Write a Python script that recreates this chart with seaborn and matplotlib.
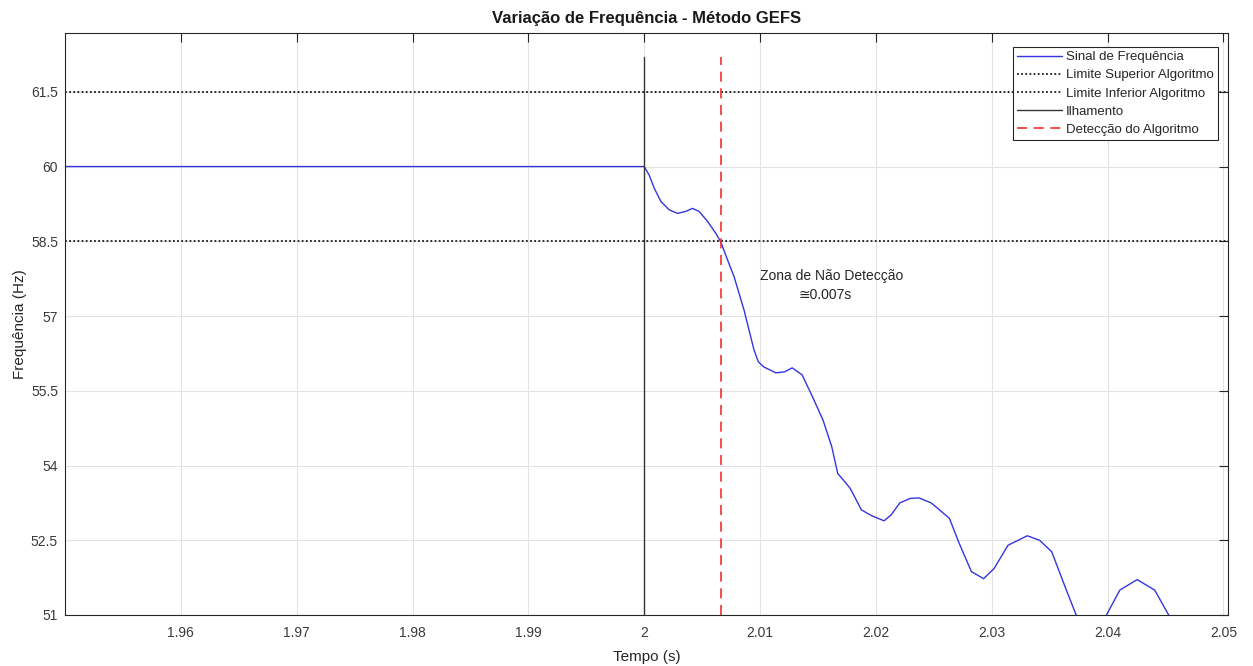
import matplotlib
matplotlib.use("Agg")
import matplotlib.pyplot as plt
import seaborn as sns
import pandas as pd

# Frequency signal (s, Hz)
tempo = [1.9500, 2.0000, 2.00043, 2.00086, 2.00144, 2.00216, 2.00288, 2.00359,
         2.00417, 2.00474, 2.00547, 2.00618, 2.00661, 2.00719, 2.00776, 2.00862,
         2.00948, 2.00986, 2.01031, 2.01137, 2.01212, 2.01278, 2.01363, 2.01453,
         2.01544, 2.01619, 2.01671, 2.01719, 2.01779, 2.01875, 2.01966, 2.02071,
         2.02132, 2.02207, 2.02297, 2.02372, 2.02478, 2.02569, 2.02635, 2.02719,
         2.02825, 2.02930, 2.03020, 2.03141, 2.03307, 2.03413, 2.03518, 2.03623,
         2.03729, 2.03860, 2.03991, 2.04106, 2.04256, 2.04407, 2.04528, 2.04650,
         2.05040]
frequencia = [60.00, 60.00, 59.83, 59.57, 59.30, 59.13, 59.06, 59.10,
              59.16, 59.10, 58.90, 58.66, 58.49, 58.13, 57.79, 57.12,
              56.32, 56.08, 55.98, 55.86, 55.88, 55.96, 55.82, 55.38,
              54.91, 54.38, 53.84, 53.71, 53.54, 53.11, 52.99, 52.89,
              53.01, 53.25, 53.34, 53.35, 53.25, 53.07, 52.94, 52.44,
              51.87, 51.73, 51.93, 52.40, 52.59, 52.50, 52.27, 51.63,
              51.00, 50.70, 51.00, 51.50, 51.71, 51.50, 51.00, 50.60,
              50.00]

limite_superior = 61.5
limite_inferior = 58.5
t_ilhamento = 2.0
t_deteccao = 2.0066
vertical_y = [50.0, 62.2]

x_ticks = [1.96, 1.97, 1.98, 1.99, 2.00, 2.01, 2.02, 2.03, 2.04, 2.05]
x_tick_labels = ["1.96", "1.97", "1.98", "1.99", "2", "2.01", "2.02", "2.03", "2.04", "2.05"]
y_ticks = [51, 52.5, 54, 55.5, 57, 58.5, 60, 61.5]
y_tick_labels = ["51", "52.5", "54", "55.5", "57", "58.5", "60", "61.5"]

sns.set_theme(style="white")
plt.rcParams["font.family"] = ["Liberation Sans", "DejaVu Sans"]
plt.rcParams["axes.linewidth"] = 0.8

fig = plt.figure(figsize=(12.53, 6.66), dpi=100)
ax = fig.add_axes([65 / 1253, 51 / 666, (1228 - 65) / 1253, (615 - 33) / 666])

df = pd.DataFrame({"tempo": tempo, "frequencia": frequencia})
sns.lineplot(data=df, x="tempo", y="frequencia", ax=ax, sort=False, estimator=None,
             color="#3535e0", linewidth=1.0, label="Sinal de Frequência")

ax.axhline(limite_superior, color="#1a1a1a", linestyle=(0, (1, 1.3)), linewidth=1.3,
           label="Limite Superior Algoritmo")
ax.axhline(limite_inferior, color="#1a1a1a", linestyle=(0, (1, 1.3)), linewidth=1.3,
           label="Limite Inferior Algoritmo")
sns.lineplot(x=[t_ilhamento, t_ilhamento], y=vertical_y, ax=ax, sort=False, estimator=None,
             color="#353535", linewidth=1.0, label="Ilhamento")
sns.lineplot(x=[t_deteccao, t_deteccao], y=vertical_y, ax=ax, sort=False, estimator=None,
             color="#f03030", linewidth=1.2, linestyle=(0, (6, 4)),
             label="Detecção do Algoritmo")

ax.text(2.01617, 57.81, "Zona de Não Detecção", ha="center", va="center",
        fontsize=10, color="#262626")
ax.text(2.01566, 57.43, "≅0.007s", ha="center", va="center",
        fontsize=10, color="#262626")

ax.set_xlim(1.9500, 2.05040)
ax.set_ylim(51, 62.68)
ax.set_xticks(x_ticks)
ax.set_xticklabels(x_tick_labels)
ax.set_yticks(y_ticks)
ax.set_yticklabels(y_tick_labels)

ax.grid(True, color="#e3e3e3", linewidth=0.8)
ax.set_axisbelow(True)
for s in ax.spines.values():
    s.set_color("#262626")
    s.set_linewidth(0.8)
ax.tick_params(axis="both", which="both", direction="in", length=6.5, width=0.8,
               top=True, right=True, labelsize=10, colors="#262626",
               labelcolor="#3a3a3a")
ax.tick_params(axis="x", pad=8)
ax.tick_params(axis="y", pad=5)

ax.set_title("Variação de Frequência - Método GEFS", fontsize=12, fontweight="bold",
             color="#1a1a1a", pad=7)
ax.set_xlabel("Tempo (s)", fontsize=11, color="#262626", labelpad=7)
ax.set_ylabel("Frequência (Hz)", fontsize=11, color="#262626", labelpad=3)

leg = ax.legend(loc="upper right", bbox_to_anchor=(0.991, 0.976), fontsize=9.5,
                frameon=True, fancybox=False, shadow=False, handlelength=3.4,
                handletextpad=0.3, labelspacing=0.45, borderpad=0.3,
                borderaxespad=0.0)
leg.get_frame().set_edgecolor("#262626")
leg.get_frame().set_linewidth(0.8)
leg.get_frame().set_facecolor("white")
leg.get_frame().set_alpha(1.0)

fig.savefig("out.png", dpi=100, facecolor="white")
